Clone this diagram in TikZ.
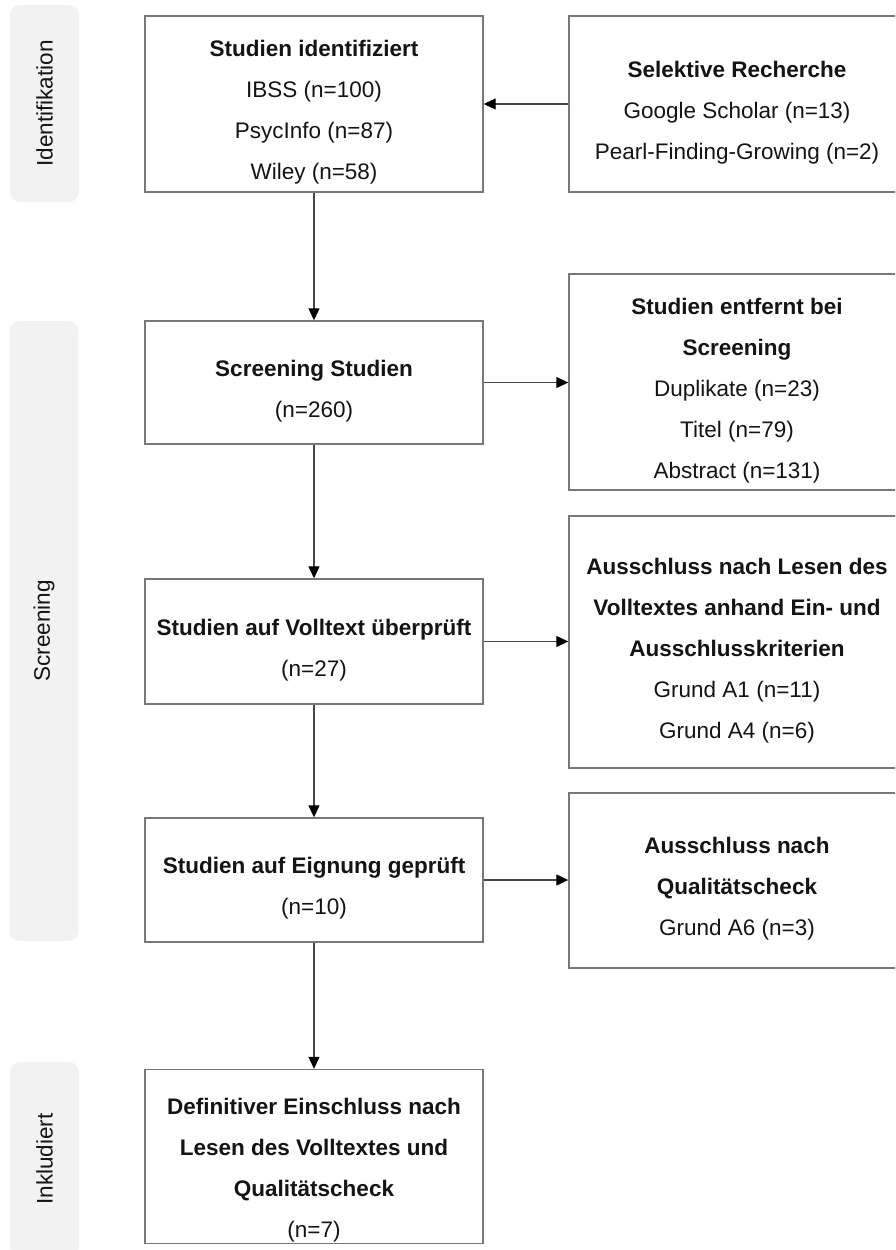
\documentclass[tikz,border=0pt]{standalone}
\usepackage{fontspec}
\setmainfont{Liberation Sans}
\usetikzlibrary{arrows.meta}
\definecolor{boxline}{RGB}{120,120,120}
\definecolor{arrline}{RGB}{70,70,70}
\definecolor{phasefill}{RGB}{242,242,242}
\definecolor{txt}{RGB}{20,20,20}
\newcommand{\ls}{\rule[-6.5pt]{0pt}{41pt}}
\newcommand{\lsbig}{\rule[-6.5pt]{0pt}{51pt}}
\begin{document}
\begin{tikzpicture}[x=1pt,y=-1pt,
  box/.style={draw=boxline, line width=1.4pt, fill=white, inner sep=0pt,
    align=center, text=txt, font=\fontsize{22.5}{41}\selectfont},
  lbox/.style={box, minimum width=338pt},
  rbox/.style={box, minimum width=336pt},
  phase/.style={fill=phasefill, rounded corners=10pt, inner sep=0pt,
    rotate=90, text=txt, font=\fontsize{22.5}{27}\selectfont, minimum height=69pt},
  arr/.style={draw=arrline, line width=1.2pt,
    -{Triangle[length=12pt,width=11pt,color=black]}}
]
\useasboundingbox (0,0) rectangle (895,1250);
\clip (0,0) rectangle (895,1250);

% phase labels
\node[phase, minimum width=197pt] (pident) at (44.5,103.5) {Identifikation};
\node[phase, minimum width=620pt] (pscreen) at (44,631) {Screening};
\node[phase, minimum width=194pt] (pinkl) at (44.5,1159) {Inkludiert};

% left column
\node[lbox, minimum height=176pt] (ident) at (314,104)
  {\ls\textbf{Studien identifiziert}\\ \ls IBSS (n=100)\\ \ls PsycInfo (n=87)\\ \ls Wiley (n=58)};
\node[lbox, minimum height=123pt] (screen) at (314,382.5)
  {\ls\textbf{Screening Studien}\\ \ls(n=260)};
\node[lbox, minimum height=125pt] (voll) at (314,641.5)
  {\ls\textbf{Studien auf Volltext überprüft}\\ \ls(n=27)};
\node[lbox, minimum height=124pt] (eign) at (314,880)
  {\ls\textbf{Studien auf Eignung geprüft}\\ \ls(n=10)};
\node[lbox, minimum height=165pt] (final) at (314,1156.5)
  {\lsbig\textbf{Definitiver Einschluss nach}\\ \ls\textbf{Lesen des Volltextes und}\\ \ls\textbf{Qualitätscheck}\\ \ls(n=7)};

% right column
\node[rbox, minimum height=176pt] (sel) at (737,104)
  {\ls\textbf{Selektive Recherche}\\ \ls Google Scholar (n=13)\\ \ls Pearl-Finding-Growing (n=2)};
\node[rbox, minimum height=216pt] (entf) at (737,382)
  {\ls\textbf{Studien entfernt bei}\\ \ls\textbf{Screening}\\ \ls Duplikate (n=23)\\ \ls Titel (n=79)\\ \ls Abstract (n=131)};
\node[rbox, minimum height=252pt] (aus) at (737,642)
  {\ls\textbf{Ausschluss nach Lesen des}\\ \ls\textbf{Volltextes anhand Ein- und}\\ \ls\textbf{Ausschlusskriterien}\\ \ls Grund A1 (n=11)\\ \ls Grund A4 (n=6)};
\node[rbox, minimum height=175pt] (qual) at (737,880.5)
  {\ls\textbf{Ausschluss nach}\\ \ls\textbf{Qualitätscheck}\\ \ls Grund A6 (n=3)};

% connectors
\draw[arr] (sel.west) -- (ident.east);
\draw[arr] (ident.south) -- (screen.north);
\draw[arr] (screen.south) -- (voll.north);
\draw[arr] (voll.south) -- (eign.north);
\draw[arr] (eign.south) -- (final.north);
\draw[arr] (screen.east) -- (screen.east -| entf.west);
\draw[arr] (voll.east) -- (voll.east -| aus.west);
\draw[arr] (eign.east) -- (eign.east -| qual.west);
\end{tikzpicture}
\end{document}
